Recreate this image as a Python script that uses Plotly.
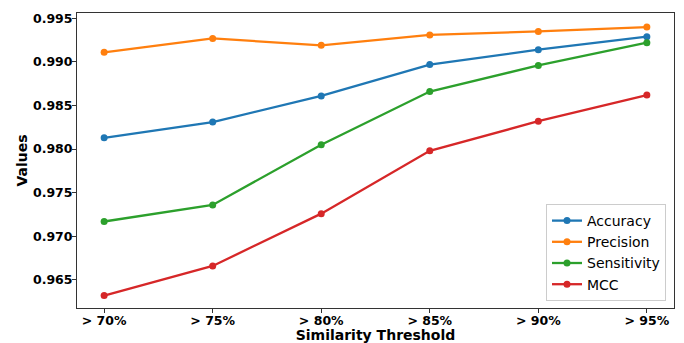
import plotly.graph_objects as go

thresholds = ["> 70%", "> 75%", "> 80%", "> 85%", "> 90%", "> 95%"]
accuracy = [0.9813, 0.9831, 0.9861, 0.9897, 0.9914, 0.9929]
precision = [0.9911, 0.9927, 0.9919, 0.9931, 0.9935, 0.9940]
sensitivity = [0.9717, 0.9736, 0.9805, 0.9866, 0.9896, 0.9922]
mcc = [0.9632, 0.9666, 0.9726, 0.9798, 0.9832, 0.9862]

series = [
    ("Accuracy", accuracy, "#1f77b4"),
    ("Precision", precision, "#ff7f0e"),
    ("Sensitivity", sensitivity, "#2ca02c"),
    ("MCC", mcc, "#d62728"),
]

FONT = "DejaVu Sans"
fig = go.Figure()
xs = list(range(len(thresholds)))
for name, vals, col in series:
    fig.add_trace(go.Scatter(
        x=xs, y=vals, name=name, mode="lines+markers",
        line=dict(color=col, width=2.3),
        marker=dict(color=col, size=7),
    ))

# page body has an 8px margin, so the figure is drawn from (8, 8)
fig.update_layout(
    width=676, height=335,
    margin=dict(l=69, r=10, t=5, b=35),
    paper_bgcolor="white", plot_bgcolor="white",
    font=dict(family=FONT, color="black"),
    showlegend=True,
    legend=dict(
        x=0.9866, y=0.0237, xanchor="right", yanchor="bottom",
        bgcolor="rgba(255,255,255,0.8)", bordercolor="#cccccc", borderwidth=1,
        font=dict(family=FONT, size=14, color="black"),
        itemwidth=30,
    ),
)
fig.update_xaxes(
    range=[-0.25, 5.25], automargin=False,
    tickmode="array", tickvals=xs, ticktext=["<b>%s</b>" % t for t in thresholds],
    tickfont=dict(family=FONT, size=12.5, color="black"),
    showgrid=False, zeroline=False,
    showline=True, linecolor="#333333", linewidth=1, mirror=True,
    ticks="outside", ticklen=4, tickcolor="#333333",
    ticklabelstandoff=-3,
    title=dict(text="<b>Similarity Threshold</b>", font=dict(family=FONT, size=14, color="black"), standoff=14),
)
fig.update_yaxes(
    range=[0.96178, 0.99561], automargin=False,
    tickmode="array",
    tickvals=[0.965, 0.970, 0.975, 0.980, 0.985, 0.990, 0.995],
    ticktext=["<b>%.3f</b>" % v for v in [0.965, 0.970, 0.975, 0.980, 0.985, 0.990, 0.995]],
    tickfont=dict(family=FONT, size=12.5, color="black"),
    showgrid=False, zeroline=False,
    showline=True, linecolor="#333333", linewidth=1, mirror=True,
    ticks="outside", ticklen=4, tickcolor="#333333",
    ticklabelstandoff=-3,
    title=dict(text="<b>Values</b>", font=dict(family=FONT, size=14, color="black"), standoff=2),
)

fig.write_html("out.html")
